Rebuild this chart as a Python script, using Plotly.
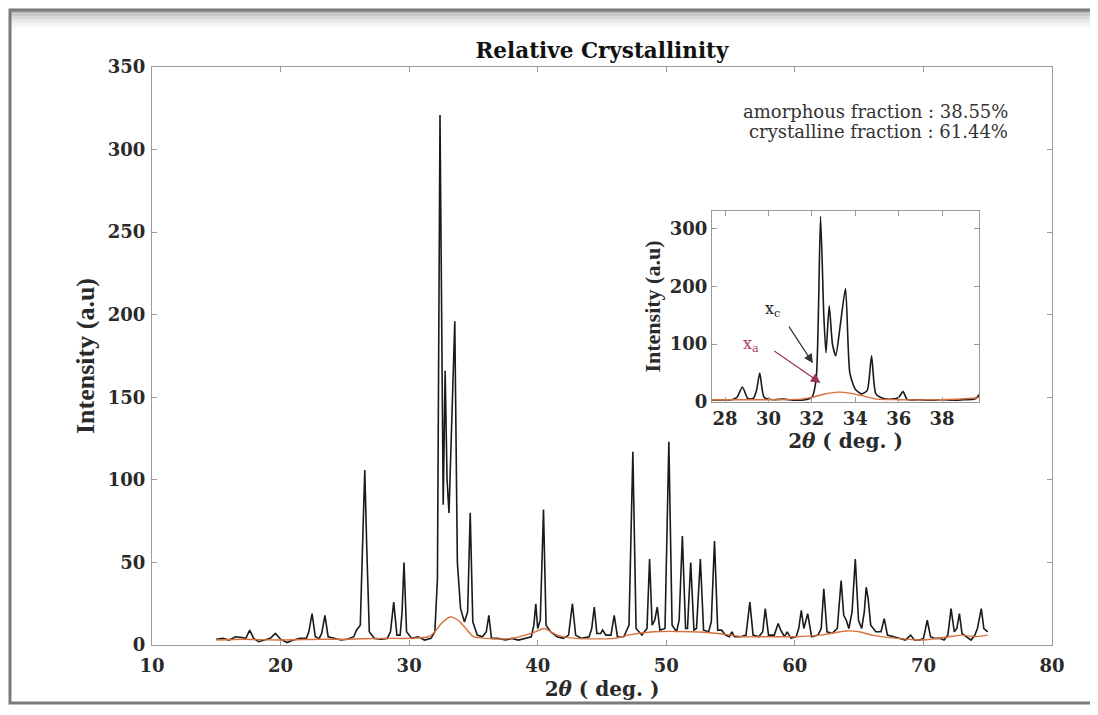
import plotly.graph_objects as go

# ---- data ----
two_theta = [15.0, 15.5, 16.0, 16.5, 17.0, 17.3, 17.6, 17.9, 18.3, 18.8, 19.2, 19.6, 20.0, 20.5,
             21.0, 21.5, 22.0, 22.2, 22.45, 22.7, 23.0, 23.2, 23.45, 23.7, 24.2, 24.7, 25.2, 25.7,
             25.9, 26.2, 26.45, 26.55, 26.7, 26.9, 27.3, 27.8, 28.3, 28.55, 28.8, 29.05, 29.3, 29.45,
             29.6, 29.8, 30.2, 30.7, 31.2, 31.7, 32.0, 32.2, 32.4, 32.55, 32.65, 32.8, 32.95, 33.1,
             33.3, 33.55, 33.75, 34.0, 34.3, 34.55, 34.75, 34.95, 35.3, 35.7, 36.0, 36.2, 36.4, 36.9,
             37.5, 38.0, 38.5, 39.0, 39.5, 39.7, 39.85, 40.0, 40.2, 40.45, 40.65, 41.0, 41.5, 42.0,
             42.4, 42.7, 42.95, 43.4, 44.0, 44.2, 44.4, 44.6, 44.9, 45.05, 45.3, 45.7, 45.95, 46.2,
             46.7, 47.1, 47.4, 47.65, 48.1, 48.5, 48.7, 48.9, 49.1, 49.3, 49.5, 49.9, 50.2, 50.45,
             50.8, 51.0, 51.25, 51.5, 51.65, 51.9, 52.15, 52.35, 52.65, 52.9, 53.3, 53.5, 53.75, 54.0,
             54.3, 54.6, 54.9, 55.1, 55.3, 55.8, 56.2, 56.5, 56.75, 57.2, 57.5, 57.7, 57.95, 58.4,
             58.7, 58.9, 59.2, 59.4, 59.7, 60.1, 60.3, 60.5, 60.7, 61.0, 61.3, 61.8, 62.05, 62.25,
             62.5, 62.9, 63.3, 63.6, 63.8, 64.0, 64.2, 64.45, 64.7, 64.95, 65.2, 65.4, 65.55, 65.7,
             65.9, 66.3, 66.7, 66.95, 67.2, 67.7, 68.2, 68.6, 69.0, 69.3, 69.7, 70.0, 70.3, 70.55,
             70.9, 71.3, 71.6, 71.9, 72.15, 72.4, 72.6, 72.8, 73.0, 73.4, 73.7, 74.0, 74.2, 74.5,
             74.7, 75.0]
intensity = [3.5, 4, 3, 5, 4.5, 4, 9, 4, 2, 3, 4, 7, 3.5, 1.5,
             3, 4, 4, 8, 19, 5, 4, 7, 18, 5, 4, 3, 3.5, 5,
             9, 12, 80, 106, 60, 8, 4, 3.5, 4, 8, 26, 6, 6, 20,
             50, 8, 4, 5, 3, 4, 8, 40, 321, 150, 85, 166, 100, 80,
             130, 196, 50, 22, 14, 20, 80, 14, 6, 5, 8, 18, 4, 4,
             3, 4, 3, 4, 5, 12, 25, 10, 15, 82, 12, 8, 5, 4,
             6, 25, 6, 4, 5, 10, 23, 7, 7, 9, 6, 6, 18, 5,
             5, 12, 117, 10, 6, 10, 52, 12, 15, 23, 9, 10, 123, 12,
             8, 15, 66, 10, 10, 50, 9, 10, 52, 9, 8, 14, 63, 9,
             9, 6, 5, 8, 5, 5, 6, 26, 6, 5, 8, 22, 6, 6,
             13, 9, 5, 8, 4, 5, 10, 21, 10, 19, 5, 6, 10, 34,
             8, 7, 10, 39, 18, 15, 10, 20, 52, 15, 10, 20, 35, 28,
             12, 8, 8, 16, 6, 5, 4, 3, 6, 3, 3, 4, 15, 5,
             4, 4, 3, 6, 22, 8, 10, 19, 7, 5, 3, 6, 10, 22,
             10, 8]

amorph_theta = [15, 17, 20, 23, 25, 28, 30, 31.5, 32.0, 32.5, 33.2, 33.8, 34.3, 35.0, 36.0,
                38.0, 39.5, 40.5, 41.5, 43.0, 46.0, 47.0, 49.0, 52.0, 54.0, 56.0, 58.0, 60.0,
                62.0, 64.0, 65.0, 66.0, 68.0, 70.0, 72.0, 73.0, 74.0, 75.0]
amorph_int = [3, 3.5, 3, 3.5, 3.5, 4, 4, 5, 8, 13, 17, 15, 11, 5, 4,
              4, 7, 10, 6, 4, 4, 6, 8, 8, 7, 5, 5, 5,
              6, 8.5, 8, 6, 4, 3, 5, 6, 5, 6]

main_xticks = [10, 20, 30, 40, 50, 60, 70, 80]
main_yticks = [0, 50, 100, 150, 200, 250, 300, 350]
inset_xticks = [28, 30, 32, 34, 36, 38]
inset_yticks = [0, 100, 200, 300]

title_text = "Relative Crystallinity"
xtitle = "2<i>θ</i> ( deg. )"
ytitle = "Intensity (a.u)"
fraction_lines = ["amorphous fraction : 38.55%", "crystalline fraction : 61.44%"]

# ---- figure ----
W, H = 1098, 715
OFF = 8                      # page offset of the rendered figure
L, R, T, B = 152, 1052, 67, 645   # plot box in reference pixels
SERIF = "Liberation Serif, Times New Roman, serif"
WIDE = "DejaVu Serif, serif"
BLACK = "#1a1a1a"
ORANGE = "#d9703c"
AXC = "#9a9a9a"
TXT = "#2a2a2a"

fig = go.Figure()

for xa, ya, shape in (("x", "y", "linear"), ("x2", "y2", "spline")):
    fig.add_trace(go.Scatter(x=two_theta, y=intensity, mode="lines", xaxis=xa, yaxis=ya,
                             line=dict(color=BLACK, width=1.6, shape=shape, smoothing=0.6),
                             showlegend=False, hoverinfo="skip"))
    fig.add_trace(go.Scatter(x=amorph_theta, y=amorph_int, mode="lines", xaxis=xa, yaxis=ya,
                             line=dict(color=ORANGE, width=1.4, shape="spline", smoothing=0.6),
                             showlegend=False, hoverinfo="skip"))


def px2paper_x(px):
    return (px - L) / (R - L)


def px2paper_y(py):
    return (B - py) / (B - T)


axis_common = dict(showline=True, linecolor=AXC, linewidth=1, mirror="ticks", ticks="inside",
                   ticklen=5, tickcolor=AXC, showgrid=False, zeroline=False)

fig.update_layout(
    width=W, height=H,
    margin=dict(l=L - OFF, r=W - (R - OFF), t=T - OFF, b=H - (B - OFF), autoexpand=False),
    paper_bgcolor="white", plot_bgcolor="white",
    xaxis=dict(range=[10, 80], tickvals=main_xticks, ticklabelstandoff=4,
               tickfont=dict(family=WIDE, size=18, color=TXT, weight="bold"),
               title=dict(text=xtitle, font=dict(family=WIDE, size=20, color=TXT, weight="bold"), standoff=7),
               **axis_common),
    yaxis=dict(range=[0, 350], tickvals=main_yticks, ticklabelstandoff=2,
               tickfont=dict(family=WIDE, size=18, color=TXT, weight="bold"),
               title=dict(text=ytitle, font=dict(family=SERIF, size=26, color=TXT, weight="bold"), standoff=5),
               **axis_common),
    xaxis2=dict(domain=[px2paper_x(712), px2paper_x(979)], anchor="y2", range=[27.4, 39.7],
                tickvals=inset_xticks, tickfont=dict(family=WIDE, size=18, color=TXT, weight="bold"),
                title=dict(text=xtitle, font=dict(family=WIDE, size=20, color=TXT, weight="bold"), standoff=4),
                **axis_common),
    yaxis2=dict(domain=[px2paper_y(402), px2paper_y(211)], anchor="x2", range=[0, 330],
                tickvals=inset_yticks, tickfont=dict(family=WIDE, size=18, color=TXT, weight="bold"),
                title=dict(text=ytitle, font=dict(family=SERIF, size=22, color=TXT, weight="bold"), standoff=3),
                **axis_common),
    title=dict(text=title_text, x=px2paper_x(602), xref="paper", xanchor="center",
               y=1 - (50 - OFF) / H, yanchor="middle",
               font=dict(family=WIDE, size=21.5, color="#111", weight="bold")),
)

# inset white background
fig.add_shape(type="rect", xref="x2 domain", yref="y2 domain", x0=0, x1=1, y0=0, y1=1,
              fillcolor="white", line=dict(width=0), layer="below")

# fraction text
for i, txt in enumerate(fraction_lines):
    fig.add_annotation(text=txt, xref="paper", yref="paper", x=px2paper_x(1010), y=px2paper_y(112 + 20 * i),
                       xanchor="right", yanchor="middle", showarrow=False,
                       font=dict(family=WIDE, size=18, color="#333"))

# inset annotations x_c and x_a
fig.add_annotation(x=32.05, y=67, xref="x2", yref="y2", ax=30.9, ay=133, axref="x2", ayref="y2",
                   text="", showarrow=True, arrowhead=2, arrowsize=1.4, arrowwidth=1.3, arrowcolor="#333")
fig.add_annotation(x=30.2, y=160, xref="x2", yref="y2", text="x<sub>c</sub>", showarrow=False,
                   font=dict(family=WIDE, size=16, color="#222"))
fig.add_annotation(x=32.4, y=33, xref="x2", yref="y2", ax=30.2, ay=90, axref="x2", ayref="y2",
                   text="", showarrow=True, arrowhead=2, arrowsize=1.6, arrowwidth=1.2, arrowcolor="#9a3550")
fig.add_annotation(x=29.2, y=100, xref="x2", yref="y2", text="x<sub>a</sub>", showarrow=False,
                   font=dict(family=WIDE, size=16, color="#b04060"))


# photographic frame (reference pixel coordinates)
def pxrect(x0, y0, x1, y1, **kw):
    fig.add_shape(type="rect", xref="paper", yref="paper",
                  x0=px2paper_x(x0), x1=px2paper_x(x1), y0=px2paper_y(y0), y1=px2paper_y(y1), **kw)


for k, op in enumerate([0.55, 0.4, 0.28, 0.18, 0.1, 0.05]):
    pxrect(10, 10 + 3 * k, 1092, 13 + 3 * k, fillcolor="#7a7a7a", opacity=op, line=dict(width=0), layer="below")
pxrect(10, 10, 1092, 703, line=dict(color="#7a7a7a", width=3), fillcolor="rgba(0,0,0,0)", layer="below")

fig.write_html("out.html")
